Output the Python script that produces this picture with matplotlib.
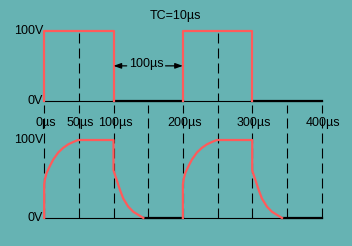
import matplotlib.pyplot as plt
import matplotlib.transforms as mtransforms

# Square wave input (top) and RC response (bottom), TC = 10 us
pulse_starts_us = [0, 200]
pulse_width_us = 100
pulse_high_v = 100
trace_end_us = 400

# RC output shape for one pulse (time from pulse start, volts)
rc_t_us = [0, 0, 1.2, 3.6, 8.4, 13.1, 20.3, 27.5, 34.8, 42, 49,
           100, 100, 104.5, 109.3, 114, 121.3, 128.5, 135.7, 143]
rc_v = [0, 43, 50, 58, 67, 75, 84, 90, 94.5, 97.5, 100,
        100, 61, 49, 36, 25, 14.5, 8, 4, 0]

tick_values_us = [0, 50, 100, 200, 300, 400]
tick_labels = ["0µs", "50µs", "100µs", "200µs", "300µs", "400µs"]
grid_us = [0, 50, 100, 150, 200, 250, 300, 350, 400]
top_grid_us = [50, 250]
volt_labels = ["100V", "0V"]
volt_levels = [100, 0]

BG = "#66b3b3"
RED = "#ff5a5a"
DASH = (0, (9, 4.5))

plt.rcParams['font.family'] = ['Liberation Sans', 'DejaVu Sans']
plt.rcParams['font.size'] = 9

fig = plt.figure(figsize=(3.52, 2.46), dpi=100, facecolor=BG)
ax_top = fig.add_axes([0, 0.5, 1, 0.5])
ax_bot = fig.add_axes([0, 0, 1, 0.5])

for ax in (ax_top, ax_bot):
    ax.set_facecolor("none")
    ax.set_xlim(-63.7, 443.9)
    ax.axis("off")
ax_top.set_ylim(-31.3, 143.7)
ax_bot.set_ylim(-35.9, 121.8)

# --- top panel: square pulses ---
ax_top.plot([0, trace_end_us], [0, 0], color="black", lw=0.8)
for s in pulse_starts_us:
    e = s + pulse_width_us
    ax_top.plot([s, s, e, e], [0, pulse_high_v, pulse_high_v, 0], color=RED, lw=1.6, zorder=3)
    nxt = min(e + pulse_width_us, trace_end_us)
    ax_top.plot([e, nxt], [0, 0], color="black", lw=1.6)
for g in top_grid_us:
    ax_top.plot([g, g], [97, 0], color="black", lw=0.8, linestyle=DASH)

# width marker between first pulse end and second pulse start
arrow_kw = dict(arrowstyle="-|>,head_length=0.5,head_width=0.18", color="black", lw=0.9,
                shrinkA=0, shrinkB=0)
ax_top.annotate("", xy=(pulse_width_us, 50), xytext=(119, 50), arrowprops=arrow_kw)
ax_top.annotate("", xy=(pulse_starts_us[1], 50), xytext=(175, 50), arrowprops=arrow_kw)
ax_top.text(147, 52, "100µs", ha="center", va="center")
ax_top.text(189, 121, "TC=10µs", ha="center", va="center")

# --- bottom panel: RC response ---
ax_bot.plot([0, trace_end_us], [0, 0], color="black", lw=0.8)
for g in grid_us:
    ax_bot.plot([g, g], [0, 145], color="black", lw=0.8, linestyle=DASH, clip_on=False)
for s in pulse_starts_us:
    ax_bot.plot([s + t for t in rc_t_us], rc_v, color=RED, lw=1.6, zorder=3)
    ax_bot.plot([s + rc_t_us[-1], min(s + 2 * pulse_width_us, trace_end_us)], [0, 0],
                color="black", lw=1.6)

# --- labels ---
for ax in (ax_top, ax_bot):
    for lab, v in zip(volt_labels, volt_levels):
        ax.text(-1.5, v, lab, ha="right", va="center")

trans = mtransforms.blended_transform_factory(ax_top.transData, fig.transFigure)
for t, lab in zip(tick_values_us, tick_labels):
    ax_top.text(t + 2, 0.5, lab, ha="center", va="center", transform=trans)

fig.savefig("out.png", dpi=100, facecolor=BG)
